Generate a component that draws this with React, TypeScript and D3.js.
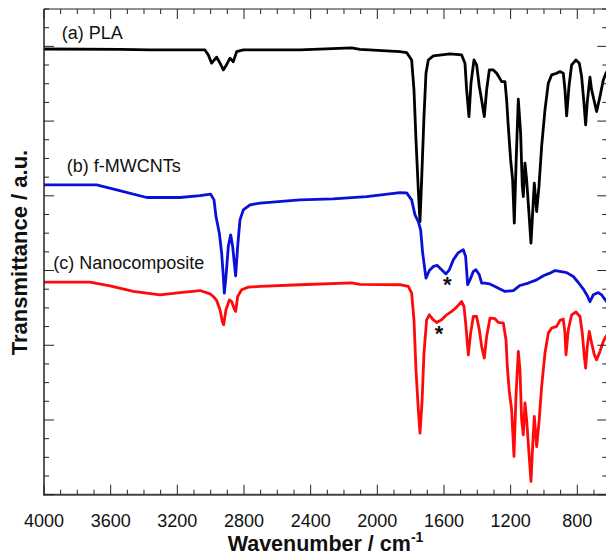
import React from "react";
import * as d3 from "d3";

// wavenumber (cm-1), transmittance (a.u.)
const plaWave = [4000,3544,3364,3034,3014,2994,2964,2944,2924,2902,2884,2864,2844,2804,2464,2154,2104,1864,1824,1794,1780,1768,1754,1744,1734,1720,1708,1694,1664,1564,1494,1474,1464,1450,1438,1420,1404,1388,1374,1358,1344,1328,1304,1284,1274,1254,1234,1224,1214,1200,1188,1178,1168,1154,1140,1130,1124,1114,1104,1090,1078,1068,1058,1044,1030,1014,994,974,954,924,904,884,874,864,850,834,808,788,774,760,750,740,724,714,700,684,664,644,628,616];
const plaT = [23.86,23.84,23.81,23.81,23.54,23.10,23.42,23.11,22.74,23.06,23.37,23.18,23.72,23.81,23.81,23.92,23.84,23.72,23.67,23.27,21.67,18.99,16.32,14.62,16.85,20.24,22.56,23.27,23.49,23.60,23.54,23.10,21.67,20.24,22.03,23.27,23.01,21.85,21.13,20.24,21.67,22.74,22.74,22.56,22.42,22.11,22.11,21.13,19.71,17.92,16.85,14.54,17.57,21.17,19.35,16.50,15.96,17.75,16.85,15.07,13.47,15.07,16.68,15.16,16.50,18.64,20.60,22.03,22.47,22.56,22.65,22.56,21.67,20.28,21.85,23.01,23.27,23.10,22.38,20.96,19.80,21.04,22.35,21.67,21.13,20.51,21.31,22.20,22.56,22.74];

const cntWave = [4000,3684,3564,3384,3184,3064,3000,2980,2968,2948,2934,2924,2918,2908,2894,2880,2868,2858,2850,2838,2824,2804,2764,2704,2464,2266,2064,1864,1824,1794,1774,1754,1740,1728,1708,1688,1664,1640,1614,1588,1568,1544,1514,1484,1470,1458,1444,1424,1408,1388,1374,1354,1328,1294,1264,1234,1184,1144,1094,1044,1004,964,934,904,864,824,794,764,740,724,704,674,654,640,628,616];
const cntT = [16.59,16.59,16.32,15.91,15.91,16.01,16.09,15.78,14.89,14.00,12.93,11.68,10.79,11.68,13.29,13.91,13.29,12.40,11.72,13.29,14.71,15.25,15.52,15.61,15.78,15.84,15.96,16.17,16.16,15.78,14.98,14.62,14.18,12.95,11.59,12.00,12.22,12.27,12.04,11.82,12.04,12.57,12.96,13.11,12.75,11.24,11.50,11.95,12.04,11.77,11.33,11.33,11.29,11.15,11.01,10.88,10.93,11.20,11.33,11.50,11.72,11.86,12.00,11.95,11.89,11.68,11.36,11.01,10.65,10.33,10.70,10.82,10.70,10.52,10.38,10.27];

const ncWave = [4000,3724,3604,3464,3304,3184,3064,3004,2984,2964,2944,2930,2922,2908,2888,2874,2858,2850,2838,2814,2774,2704,2464,2154,2104,1864,1814,1794,1780,1768,1754,1744,1732,1720,1704,1688,1664,1644,1614,1584,1554,1524,1494,1480,1468,1454,1440,1424,1404,1388,1374,1358,1344,1324,1294,1274,1244,1228,1220,1208,1194,1180,1168,1154,1144,1134,1124,1114,1104,1090,1078,1068,1058,1044,1030,1014,994,974,954,924,904,884,874,868,854,834,808,784,770,758,750,740,728,714,698,684,664,644,628,616];
const ncT = [11.38,11.38,11.18,10.88,10.70,10.82,10.93,10.75,10.61,10.40,9.90,9.27,9.10,9.90,10.43,10.34,9.94,9.81,10.61,10.97,11.11,11.15,11.24,11.34,11.26,11.24,11.15,10.79,9.36,6.69,4.55,3.30,4.91,7.58,9.36,9.63,9.36,9.22,9.36,9.63,9.81,10.04,10.34,10.08,9.01,7.49,8.65,9.54,9.54,8.83,7.94,7.31,8.47,9.45,9.42,9.22,9.19,8.29,6.86,5.53,4.55,2.05,5.26,7.67,6.69,4.01,3.21,4.91,4.01,2.23,0.71,2.58,4.19,2.58,3.84,5.79,7.58,8.65,8.92,9.01,9.33,9.40,8.65,7.49,8.83,9.63,9.78,9.54,8.65,7.40,6.78,7.94,8.74,8.12,7.49,7.22,7.67,8.20,8.47,8.61];

const seriesNames = ["(a) PLA", "(b) f-MWCNTs", "(c) Nanocomposite"];
const seriesColors = ["#000000", "#0a10d6", "#ff0a0a"];
const xTickLabels = [4000, 3600, 3200, 2800, 2400, 2000, 1600, 1200, 800];
const asteriskMarks = [[1580, 10.85], [1630, 8.25]];

const W = 606, H = 555;
const L = 44, R = 607.3, T = 9, B = 494.7;

export default function App() {
  const x = d3.scaleLinear().domain([4000, 620]).range([L, R]);
  const y = d3.scaleLinear().domain([0, 26]).range([B, T]);
  const line = d3.line<[number, number]>().x(d => x(d[0])).y(d => y(d[1]));
  const series = [
    d3.zip(plaWave, plaT) as [number, number][],
    d3.zip(cntWave, cntT) as [number, number][],
    d3.zip(ncWave, ncT) as [number, number][],
  ];
  const xMinor = d3.range(4000, 619, -100);
  const yTicks = d3.range(0, 27, 1);
  const labelPos = [[61.7, 39], [66.7, 171.7], [53.3, 269.3]];
  const font = "'Liberation Sans', Arial, sans-serif";

  return (
    <svg width={W} height={H} style={{ position: "absolute", left: 0, top: 0 }} fontFamily={font}>
      <rect width={W} height={H} fill="#fff" />
      {series.map((s, i) => (
        <path key={i} d={line(s) || ""} fill="none" stroke={seriesColors[i]} strokeWidth={2.8} strokeLinejoin="round" />
      ))}
      {/* axes */}
      <line x1={L} x2={L} y1={T} y2={B} stroke="#222" strokeWidth={1.5} />
      <line x1={R} x2={R} y1={T} y2={B} stroke="#222" strokeWidth={1.5} />
      <line x1={L} x2={R} y1={T} y2={T} stroke="#222" strokeWidth={1.2} />
      <line x1={L - 1} x2={R} y1={B} y2={B} stroke="#444" strokeWidth={2} />
      {xMinor.map(v => {
        const major = v % 400 === 0;
        const len = major ? 10 : 5;
        return (
          <g key={"x" + v}>
            <line x1={x(v)} x2={x(v)} y1={B} y2={B - len} stroke="#222" strokeWidth={1} />
            <line x1={x(v)} x2={x(v)} y1={T} y2={T + len} stroke="#222" strokeWidth={1} />
          </g>
        );
      })}
      {yTicks.map(v => {
        const major = v % 4 === 0;
        const len = major ? 10 : 5;
        return (
          <g key={"y" + v}>
            <line x1={L} x2={L + len} y1={y(v)} y2={y(v)} stroke="#222" strokeWidth={1} />
            <line x1={R} x2={R - len} y1={y(v)} y2={y(v)} stroke="#222" strokeWidth={1} />
          </g>
        );
      })}
      {xTickLabels.map(v => (
        <text key={"xl" + v} x={x(v)} y={527.2} textAnchor="middle" fontSize={18} fill="#111">{v}</text>
      ))}
      <text x={227.7} y={550.6} fontSize={21.5} fontWeight="bold" fill="#111">
        Wavenumber / cm<tspan dy={-9} fontSize={14}>-1</tspan>
      </text>
      <text transform="translate(27,252.5) rotate(-90)" textAnchor="middle" fontSize={22} fontWeight="bold" fill="#111">
        Transmittance / a.u.
      </text>
      {seriesNames.map((n, i) => (
        <text key={n} x={labelPos[i][0]} y={labelPos[i][1]} fontSize={18} fill="#111">{n}</text>
      ))}
      {asteriskMarks.map((m, i) => (
        <text key={"a" + i} x={x(m[0])} y={y(m[1])} textAnchor="middle" fontSize={22} fontWeight="bold" fill="#111">*</text>
      ))}
    </svg>
  );
}
